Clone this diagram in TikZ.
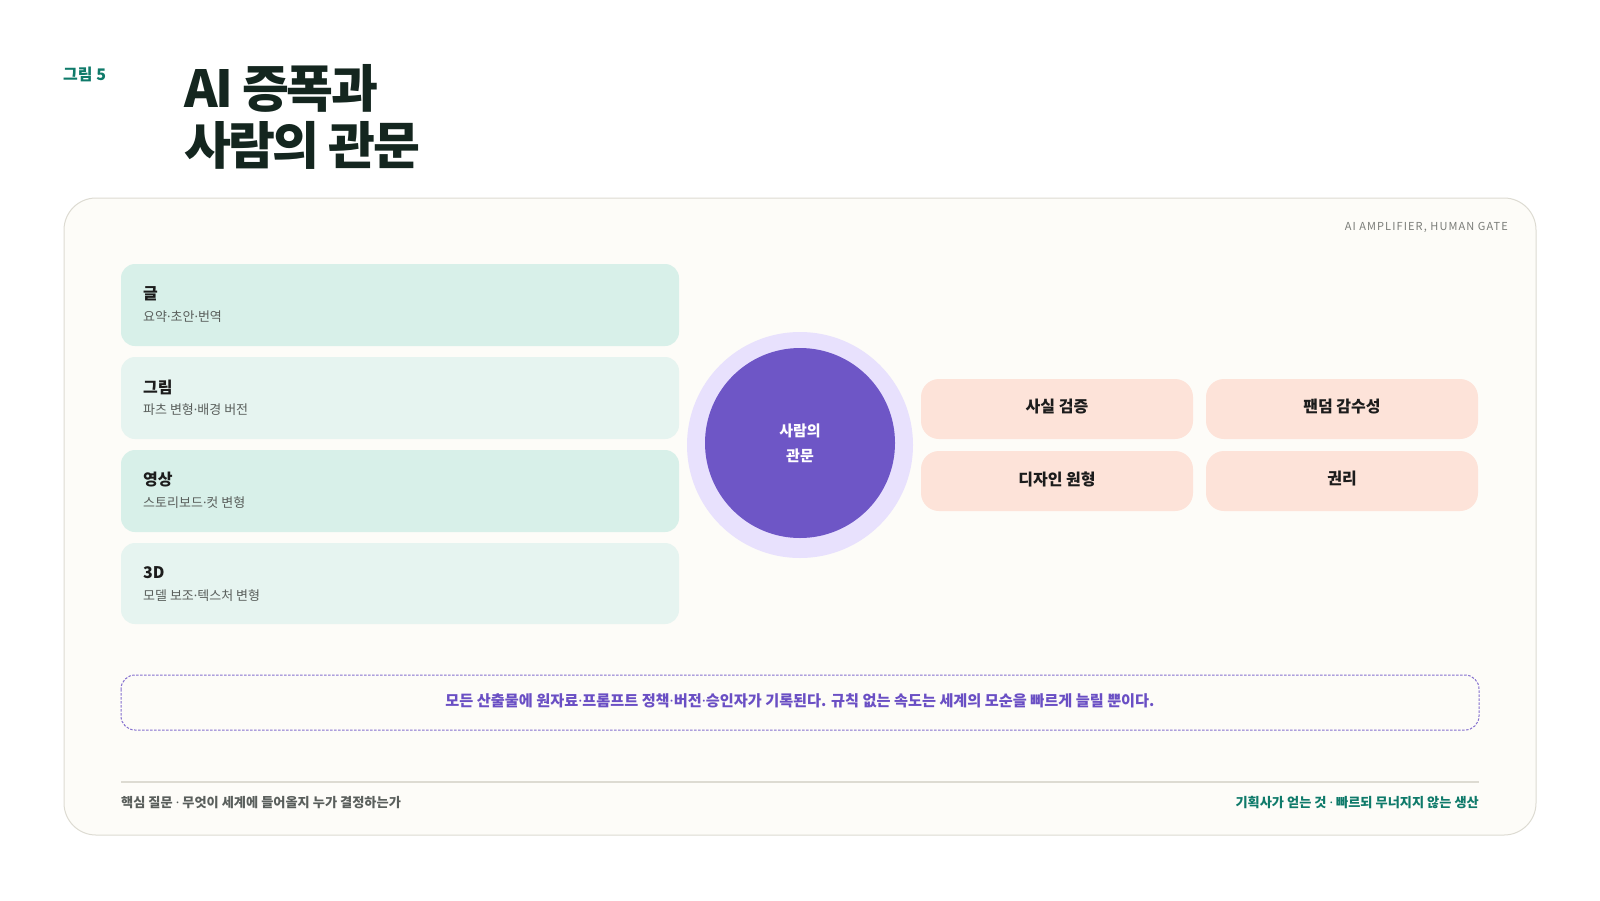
\documentclass[tikz,border=0pt]{standalone}
\usepackage{fontspec}
\setmainfont{Noto Sans CJK KR}
\newfontfamily\latinf{Noto Sans}
\newcommand{\md}{{\latinf ·}}
\newcommand{\up}[1]{\raisebox{2pt}[\height][\depth]{#1}}
\usetikzlibrary{positioning}
\definecolor{titlec}{HTML}{14261F}
\definecolor{tealc}{HTML}{0F7A6A}
\definecolor{cardbg}{HTML}{FDFCF8}
\definecolor{cardline}{HTML}{DDDBD2}
\definecolor{minta}{HTML}{D8F0E9}
\definecolor{mintb}{HTML}{E6F4F0}
\definecolor{peach}{HTML}{FDE3D9}
\definecolor{purp}{HTML}{6E56C6}
\definecolor{purpl}{HTML}{E8E1FD}
\definecolor{purpt}{HTML}{6A4FC4}
\definecolor{subg}{HTML}{5A5F5C}
\definecolor{greyt}{HTML}{7A7C78}
\definecolor{darkt}{HTML}{1C1C1C}
\tikzset{
  leftbox/.style={rounded corners=14pt, draw=none},
  rightbox/.style={rounded corners=18pt, fill=peach, draw=none, minimum width=272pt, minimum height=60pt, font=\fontsize{16}{18}\selectfont\bfseries, text=darkt},
  boxtitle/.style={anchor=west, font=\fontsize{16}{18}\selectfont\bfseries, text=darkt, inner sep=0pt},
  boxsub/.style={anchor=west, font=\fontsize{13}{15}\selectfont, text=subg, inner sep=0pt},
}
\begin{document}
\begin{tikzpicture}[x=1pt,y=-1pt]
\useasboundingbox[fill=white] (0,0) rectangle (1600,900);
% header
\node[anchor=west, inner sep=0pt, text=tealc, font=\fontsize{16}{18}\selectfont\bfseries] (fig) at (63,74) {그림 5};
\node[anchor=north west, inner sep=0pt, text=titlec, align=left, font=\fontsize{51}{57}\selectfont\bfseries\addfontfeature{LetterSpace=-5}] (title) at (184,64) {AI 증폭과\\사람의 관문};
% card
\draw[cardline, fill=cardbg, line width=1pt, rounded corners=32pt] (64,198) rectangle (1536,835);
\node[anchor=east, inner sep=0pt, text=greyt, font=\fontsize{11}{13}\selectfont\addfontfeature{LetterSpace=10}] (tag) at (1508,227) {AI AMPLIFIER, HUMAN GATE};
% left boxes
\fill[leftbox, minta] (121,264) rectangle (679,346);
\fill[leftbox, mintb] (121,357) rectangle (679,439);
\fill[leftbox, minta] (121,450) rectangle (679,532);
\fill[leftbox, mintb] (121,543) rectangle (679,624);
\node[boxtitle] (t1) at (143,294) {글};
\node[boxsub] (s1) at (143,317) {요약\md 초안\md 번역};
\node[boxtitle] (t2) at (143,387) {그림};
\node[boxsub] (s2) at (143,410) {파츠 변형\md 배경 버전};
\node[boxtitle] (t3) at (143,480) {영상};
\node[boxsub] (s3) at (143,503) {스토리보드\md 컷 변형};
\node[boxtitle] (t4) at (143,573) {3D};
\node[boxsub] (s4) at (143,596) {모델 보조\md 텍스처 변형};
% circle
\fill[purpl] (800,445) circle (113);
\node[circle, fill=purp, minimum size=190pt, inner sep=0pt, text=white, align=center, font=\fontsize{15}{25}\selectfont\bfseries] (gate) at (800,443) {사람의\\관문};
% right boxes
\node[rightbox] (r1) at (1057,409) {\up{사실 검증}};
\node[rightbox] (r2) at (1342,409) {\up{팬덤 감수성}};
\node[rightbox] (r3) at (1057,481) {\up{디자인 원형}};
\node[rightbox] (r4) at (1342,481) {\up{권리}};
% dashed note
\draw[purp!85, line width=1pt, dash pattern=on 2.5pt off 1.5pt, rounded corners=14pt] (121,675) rectangle (1479,730);
\node[text=purpt, inner sep=0pt, font=\fontsize{15.2}{17}\selectfont\bfseries] (note) at (800,701) {모든 산출물에 원자료\md 프롬프트 정책\md 버전\md 승인자가 기록된다. 규칙 없는 속도는 세계의 모순을 빠르게 늘릴 뿐이다.};
% footer
\draw[cardline, line width=1.2pt] (121,782) -- (1479,782);
\node[anchor=west, inner sep=0pt, text=subg, font=\fontsize{13.2}{15}\selectfont\bfseries] (fl) at (121,803) {핵심 질문 \md{} 무엇이 세계에 들어올지 누가 결정하는가};
\node[anchor=east, inner sep=0pt, text=tealc, font=\fontsize{13.2}{15}\selectfont\bfseries] (fr) at (1479,803) {기획사가 얻는 것 \md{} 빠르되 무너지지 않는 생산};
\end{tikzpicture}
\end{document}
